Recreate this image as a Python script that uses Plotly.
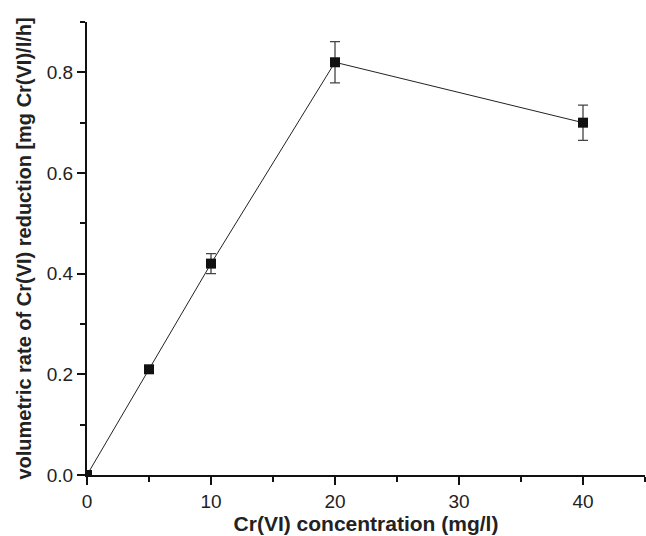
import plotly.graph_objects as go

conc = [0, 5, 10, 20, 40]
rate = [0.0, 0.21, 0.42, 0.82, 0.70]
err = [0.0, 0.005, 0.02, 0.041, 0.035]

fig = go.Figure()
fig.add_trace(go.Scatter(
    x=conc, y=rate, mode="lines+markers",
    line=dict(color="#222222", width=1),
    marker=dict(symbol="square", size=10, color="#111111"),
    error_y=dict(type="data", array=err, visible=True, color="#444444", thickness=1.3, width=5),
    cliponaxis=True, showlegend=False,
))

font_family = "Liberation Sans, Arial, sans-serif"
fig.update_layout(
    width=646, height=536,
    margin=dict(l=87, r=1, t=22, b=61),
    plot_bgcolor="white", paper_bgcolor="white",
    font=dict(family=font_family, color="#222222", size=19),
    xaxis=dict(
        range=[0, 45], tickvals=[0, 10, 20, 30, 40], showgrid=False, zeroline=False,
        showline=True, linecolor="#111111", linewidth=2,
        ticks="outside", ticklen=8, tickwidth=1.5, tickcolor="#111111",
        minor=dict(ticks="outside", ticklen=5, tickwidth=1.5, tickcolor="#111111", dtick=5, showgrid=False),
        tickfont=dict(size=19),
        title=dict(text="<b>Cr(VI) concentration (mg/l)</b>", font=dict(size=21), standoff=2),
    ),
    yaxis=dict(
        range=[0, 0.9], tickvals=[0.0, 0.2, 0.4, 0.6, 0.8], tickformat=".1f",
        showgrid=False, zeroline=False,
        showline=True, linecolor="#111111", linewidth=2,
        ticks="outside", ticklen=8, tickwidth=1.5, tickcolor="#111111",
        minor=dict(ticks="outside", ticklen=5, tickwidth=1.5, tickcolor="#111111", dtick=0.1, showgrid=False),
        tickfont=dict(size=19),
        title=dict(text="<b>volumetric rate of Cr(VI) reduction [mg Cr(VI)/l/h]</b>", font=dict(size=20), standoff=10),
    ),
)

fig.write_html("out.html")
